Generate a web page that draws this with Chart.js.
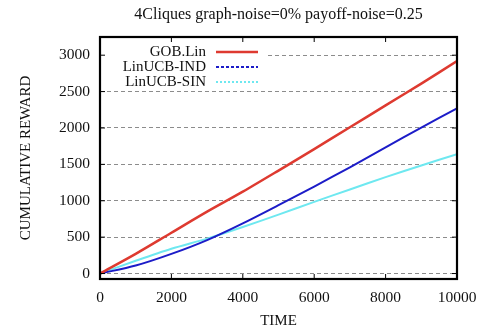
<!DOCTYPE html>
<html>
	<head>
		<title>4Cliques cumulative reward</title>
		<script src="https://cdn.jsdelivr.net/npm/chart.js"></script>
		<style>
			body{margin:0;background:#fff;}
			#wrap{width:479px;height:329px;}
		</style>
	</head>
	<body>
		<div id="wrap"><canvas id="rewardChart" width="479" height="329"></canvas></div>
		<script>
			// values
			const times = [0, 1000, 2000, 3000, 4000, 5000, 6000, 7000, 8000, 9000, 10000];
			const gobLin = [0, 270, 560, 850, 1125, 1415, 1710, 2010, 2310, 2610, 2920];
			const linucbInd = [0, 110, 270, 460, 690, 940, 1195, 1460, 1735, 2005, 2270];
			const linucbSin = [0, 175, 340, 480, 640, 810, 985, 1155, 1325, 1485, 1640];
			const seriesNames = ['GOB.Lin', 'LinUCB-IND', 'LinUCB-SIN'];
			const xTicks = [0, 2000, 4000, 6000, 8000, 10000];
			const yTicks = [0, 500, 1000, 1500, 2000, 2500, 3000];
			const chartTitle = '4Cliques graph-noise=0% payoff-noise=0.25';

			const serif = 'Liberation Serif, Times New Roman, serif';
			const colors = ['rgb(222,58,48)', 'rgb(28,28,200)', 'rgb(110,232,240)'];
			const dashes = [[], [3, 2], [2, 2]];

			function pts(vals){
				return times.map((t, i) => ({x: t, y: vals[i]}));
			}

			// title centred over the plot box, not the whole canvas
			const plotTitle = {
				id: 'plotTitle',
				afterDraw(chart){
					const ctx = chart.ctx;
					const a = chart.chartArea;
					ctx.save();
					ctx.font = '16px ' + serif;
					ctx.fillStyle = '#111';
					ctx.textAlign = 'center';
					ctx.textBaseline = 'middle';
					ctx.fillText(chartTitle, (a.left + a.right) / 2, 15);
					ctx.restore();
				}
			};

			// white legend box top left, text right-aligned with line sample after it
			const legendBox = {
				id: 'legendBox',
				beforeDatasetsDraw(chart){
					const ctx = chart.ctx;
					const a = chart.chartArea;
					ctx.save();
					ctx.fillStyle = '#fff';
					ctx.fillRect(a.left + 1, a.top + 1, 167, 52);
					ctx.font = '15px ' + serif;
					ctx.textAlign = 'right';
					ctx.textBaseline = 'middle';
					chart.data.datasets.forEach((ds, i) => {
						const y = a.top + 15 + i * 15;
						ctx.fillStyle = '#111';
						ctx.fillText(ds.label, 206, y);
						ctx.strokeStyle = ds.borderColor;
						ctx.lineWidth = i == 0 ? 2.5 : 2;
						ctx.setLineDash(dashes[i]);
						ctx.beginPath();
						ctx.moveTo(216, y);
						ctx.lineTo(258, y);
						ctx.stroke();
					});
					ctx.restore();
				}
			};

			// black frame with little inward ticks, gnuplot style
			const frame = {
				id: 'frame',
				afterDatasetsDraw(chart){
					const ctx = chart.ctx;
					const a = chart.chartArea;
					const xs = chart.scales.x, ys = chart.scales.y;
					ctx.save();
					ctx.strokeStyle = '#000';
					ctx.lineWidth = 1;
					ctx.beginPath();
					xTicks.slice(1, -1).forEach(v => {
						const px = xs.getPixelForValue(v);
						ctx.moveTo(px, a.bottom); ctx.lineTo(px, a.bottom - 5);
						ctx.moveTo(px, a.top); ctx.lineTo(px, a.top + 5);
					});
					yTicks.forEach(v => {
						const py = ys.getPixelForValue(v);
						ctx.moveTo(a.left, py); ctx.lineTo(a.left + 5, py);
						ctx.moveTo(a.right, py); ctx.lineTo(a.right - 5, py);
					});
					ctx.stroke();
					ctx.lineWidth = 2.2;
					ctx.strokeRect(a.left, a.top, a.right - a.left, a.bottom - a.top);
					ctx.restore();
				}
			};

			const config = {
				type: 'line',
				data: {
					datasets: [
						{label: seriesNames[0], data: pts(gobLin), borderColor: colors[0], borderWidth: 2.5, order: 1},
						{label: seriesNames[1], data: pts(linucbInd), borderColor: colors[1], borderWidth: 2, order: 2},
						{label: seriesNames[2], data: pts(linucbSin), borderColor: colors[2], borderWidth: 2, order: 3}
					]
				},
				options: {
					responsive: false,
					animation: false,
					devicePixelRatio: 1,
					layout: {padding: {left: 0, right: 22, top: 37, bottom: 0}},
					elements: {point: {radius: 0}, line: {tension: 0.3}},
					plugins: {
						legend: {display: false},
						tooltip: {enabled: false},
						title: {display: false}
					},
					scales: {
						x: {
							type: 'linear',
							min: 0,
							max: 10000,
							afterFit(s){ s.height = 50; s.paddingLeft = 0; s.paddingRight = 0; },
							afterBuildTicks(s){ s.ticks = xTicks.map(v => ({value: v})); },
							grid: {display: false, drawTicks: false},
							border: {display: false},
							ticks: {color: '#111', padding: 10, maxRotation: 0, font: {family: serif, size: 15.5},
								callback: v => String(v)},
							title: {display: true, text: 'TIME', color: '#111', padding: {top: 0, bottom: 0},
								font: {family: serif, size: 15, lineHeight: 1}}
						},
						y: {
							min: -75,
							max: 3250,
							afterFit(s){ s.width = 100; },
							afterBuildTicks(s){ s.ticks = yTicks.map(v => ({value: v})); },
							grid: {color: '#8c8c8c', lineWidth: 1, drawTicks: false},
							border: {display: false, dash: [4, 3]},
							ticks: {color: '#111', padding: 10, font: {family: serif, size: 15.5},
								callback: v => String(v)},
							title: {display: true, text: 'CUMULATIVE REWARD', color: '#111', padding: {top: 17, bottom: 0},
								font: {family: serif, size: 15, lineHeight: 1.2}}
						}
					}
				},
				plugins: [legendBox, frame, plotTitle]
			};

			const myChart = new Chart(document.getElementById('rewardChart'), config);
		</script>
	</body>
</html>
